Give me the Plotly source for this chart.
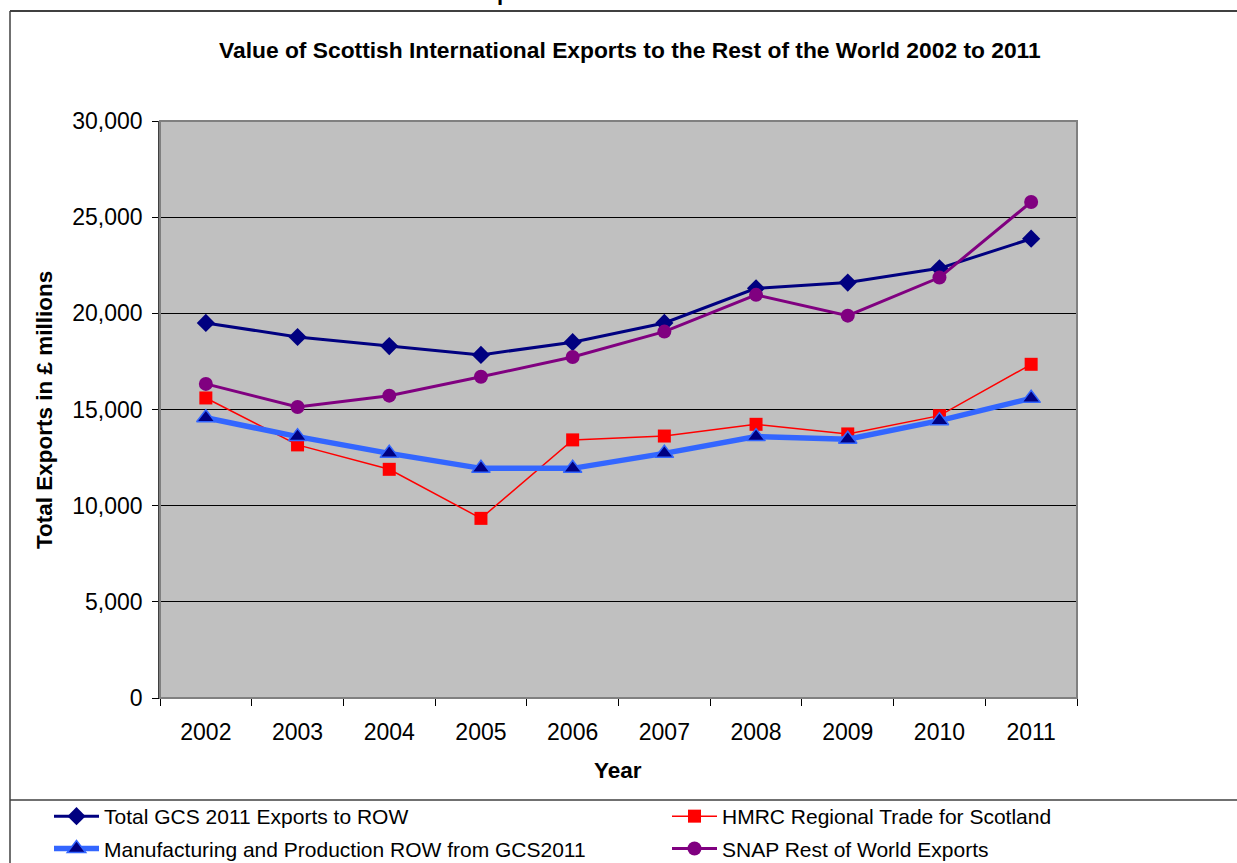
import plotly.graph_objects as go

years = ["2002", "2003", "2004", "2005", "2006", "2007", "2008", "2009", "2010", "2011"]
total_gcs = [19500, 18770, 18300, 17840, 18500, 19500, 21300, 21600, 22340, 23880]
hmrc = [15600, 13160, 11890, 9340, 13420, 13620, 14230, 13730, 14680, 17350]
manufacturing = [14570, 13590, 12720, 11940, 11940, 12720, 13590, 13450, 14420, 15580]
snap = [16330, 15130, 15720, 16700, 17730, 19050, 20960, 19880, 21860, 25790]

y_ticks = [0, 5000, 10000, 15000, 20000, 25000, 30000]

W, H = 1237, 863
L, R, T, B = 160, 1077, 121, 698

def px(x):
    return (x - L) / (R - L)

def py(y):
    return (B - y) / (B - T)

fig = go.Figure()
fig.add_trace(go.Scatter(
    x=years, y=total_gcs, name="Total GCS 2011 Exports to ROW", mode="lines+markers",
    line=dict(color="#000080", width=3),
    marker=dict(symbol="diamond", size=14, color="#000080"),
    legend="legend", legendgroup="a"))
fig.add_trace(go.Scatter(
    x=years, y=hmrc, name="HMRC Regional Trade for Scotland", mode="lines+markers",
    line=dict(color="#FF0000", width=1.5),
    marker=dict(symbol="square", size=13, color="#FF0000"),
    legend="legend2", legendgroup="b"))
fig.add_trace(go.Scatter(
    x=years, y=manufacturing, name="Manufacturing and Production ROW from GCS2011", mode="lines+markers",
    line=dict(color="#3366FF", width=5.5),
    marker=dict(symbol="triangle-up", size=16, color="#000080",
                line=dict(color="#3366FF", width=1.5)),
    legend="legend", legendgroup="c"))
fig.add_trace(go.Scatter(
    x=years, y=snap, name="SNAP Rest of World Exports", mode="lines+markers",
    line=dict(color="#800080", width=3),
    marker=dict(symbol="circle", size=14, color="#800080"),
    legend="legend2", legendgroup="d"))

font_family = "Liberation Sans, Arial, sans-serif"

legend_common = dict(
    orientation="v",
    xanchor="left", yanchor="top",
    font=dict(size=21, family=font_family, color="black"),
    bgcolor="rgba(0,0,0,0)",
    itemwidth=45,
    tracegroupgap=2,
    borderwidth=0,
)

fig.update_layout(
    width=W, height=H,
    margin=dict(l=L, r=W - R, t=T, b=H - B, pad=0, autoexpand=False),
    paper_bgcolor="white",
    plot_bgcolor="#C0C0C0",
    font=dict(family=font_family, color="black", size=21),
    showlegend=True,
    legend=dict(x=px(49), y=py(796), **legend_common),
    legend2=dict(x=px(667), y=py(796), **legend_common),
    xaxis=dict(
        type="category",
        range=[-0.5, len(years) - 0.5],
        tickson="boundaries",
        ticks="outside", ticklen=7, tickcolor="black", tickwidth=1,
        showline=True, linecolor="black", linewidth=1,
        showgrid=False, zeroline=False,
        tickfont=dict(size=23, family=font_family, color="black"),
        ticklabelstandoff=13,
    ),
    yaxis=dict(
        range=[0, 30000],
        tickvals=y_ticks,
        tickformat=",",
        ticks="outside", ticklen=6, tickcolor="black", tickwidth=1,
        showline=True, linecolor="#404040", linewidth=1.5,
        showgrid=True, gridcolor="black", gridwidth=1,
        zeroline=False,
        tickfont=dict(size=23, family=font_family, color="black"),
        ticklabelstandoff=5,
    ),
    shapes=[
        dict(type="rect", xref="paper", yref="paper", x0=0, x1=1, y0=0, y1=1,
             line=dict(color="#808080", width=2), layer="above"),
        dict(type="line", xref="paper", yref="paper", x0=px(10), x1=px(W + 5), y0=py(11), y1=py(11),
             line=dict(color="#404040", width=2)),
        dict(type="line", xref="paper", yref="paper", x0=px(10), x1=px(10), y0=py(11), y1=py(H + 5),
             line=dict(color="#404040", width=1.5)),
        dict(type="line", xref="paper", yref="paper", x0=px(10), x1=px(W + 5), y0=py(800), y1=py(800),
             line=dict(color="#404040", width=1.5)),
    ],
    annotations=[
        dict(text="<b>Value of Scottish International Exports to the Rest of the World 2002 to 2011</b>",
             xref="paper", yref="paper", x=px(630), y=py(50), xanchor="center", yanchor="middle",
             showarrow=False, font=dict(size=22.8, family=font_family, color="black")),
        dict(text="<b>Total Exports in £ millions</b>",
             xref="paper", yref="paper", x=px(44), y=py(410), xanchor="center", yanchor="middle",
             textangle=-90, showarrow=False, font=dict(size=22.5, family=font_family, color="black")),
        dict(text="<b>Year</b>",
             xref="paper", yref="paper", x=px(618), y=py(770), xanchor="center", yanchor="middle",
             showarrow=False, font=dict(size=22.5, family=font_family, color="black")),
        dict(text="<b>p</b>",
             xref="paper", yref="paper", x=px(503), y=py(-8), xanchor="center", yanchor="middle",
             showarrow=False, font=dict(size=22, family=font_family, color="black")),
    ],
)

fig.write_html("out.html", config={"displayModeBar": False},
               post_script="document.body.style.margin='0px';")
